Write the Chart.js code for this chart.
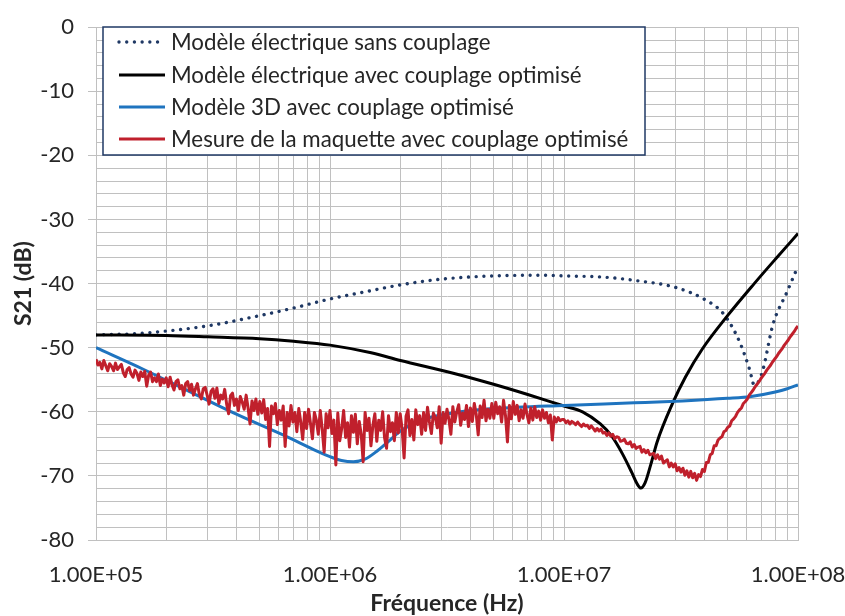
<!DOCTYPE html>
<html>
<head>
<meta charset="utf-8">
<script src="https://cdn.jsdelivr.net/npm/chart.js@4.4.1/dist/chart.umd.min.js"></script>
<style>
  html, body { margin: 0; padding: 0; background: #fff; }
  canvas { display: block; }
</style>
</head>
<body>
<canvas id="s21" width="845" height="616"></canvas>
<script>
// S21 transmission vs frequency: electrical / 3D models and the measured mock-up

const FONT = 'Lato, "Open Sans", sans-serif';
const TEXT = '#262626';
const GRID = '#c0c0c0';

// axis decades and their labels
const xDecades = [1e5, 1e6, 1e7, 1e8];
const xTickLabels = ['1.00E+05', '1.00E+06', '1.00E+07', '1.00E+08'];
const xMultipliers = [1, 2, 3, 4, 5, 6, 7, 8, 9];

// Modèle électrique sans couplage
const fSans = [1e5, 1.5e5, 2e5, 3e5, 5e5, 7e5, 1e6, 1.45e6, 2e6, 3e6, 5e6, 8e6, 1e7, 1.5e7, 2e7,
  3e7, 4e7, 4.8e7, 5.6e7, 6.2e7, 6.5e7, 6.8e7, 7.1e7, 7.8e7, 9e7, 1e8];
const s21Sans = [-48.0, -47.8, -47.4, -46.6, -45.0, -43.8, -42.4, -41.2, -40.2, -39.3, -38.8, -38.7, -38.8, -39.0, -39.5,
  -40.6, -42.5, -44.7, -48.9, -53.3, -55.8, -55.2, -53.3, -46.5, -41.2, -37.3];

// Modèle électrique avec couplage optimisé
const fAvec = [1e5, 2e5, 3e5, 5e5, 7e5, 1e6, 1.5e6, 2e6, 3.3e6, 5e6, 7e6, 1e7, 1.2e7, 1.43e7, 1.6e7,
  1.78e7, 1.95e7, 2.05e7, 2.13e7, 2.22e7, 2.35e7, 2.5e7, 2.9e7, 3.3e7, 3.9e7, 5e7, 6.5e7, 8e7, 1e8];
const s21Avec = [-48.0, -48.1, -48.3, -48.6, -49.0, -49.6, -50.8, -52.0, -53.9, -55.7, -57.3, -59.1, -60.0, -61.9, -63.8,
  -66.6, -69.5, -71.2, -71.9, -71.1, -68.2, -64.7, -58.8, -54.6, -50.2, -45.0, -40.0, -36.2, -32.2];

// Modèle 3D avec couplage optimisé
const f3d = [1e5, 1.6e5, 2.5e5, 4e5, 6.3e5, 8.9e5, 1e6, 1.12e6, 1.26e6, 1.41e6, 1.58e6, 1.78e6, 2e6, 2.5e6,
  3.2e6, 4e6, 5e6, 1e7, 2e7, 3.2e7, 5e7, 6.3e7, 8e7, 9e7, 1e8];
const s21_3d = [-50.0, -53.4, -56.8, -60.4, -63.6, -66.2, -67.0, -67.6, -67.8, -67.4, -66.2, -64.6, -63.0, -61.2,
  -60.3, -59.8, -59.5, -59.0, -58.6, -58.3, -57.9, -57.6, -56.9, -56.4, -55.8];

// Mesure de la maquette: log sweep 100 kHz - 100 MHz, 120 points per decade
// (one row = a tenth of a decade)
const sweepStart = 1e5;
const pointsPerDecade = 120;
const s21Mesure = [
  -51.8, -52.7, -52.3, -53.3, -52.0, -52.8, -53.6, -52.5, -52.9, -53.6, -52.4, -53.4,
  -53.0, -52.6, -53.9, -54.5, -53.4, -53.1, -54.1, -54.6, -53.5, -54.0, -55.1, -53.8,
  -54.5, -53.7, -56.0, -54.3, -53.8, -55.3, -54.7, -55.3, -54.1, -55.9, -54.9, -55.5,
  -54.7, -56.1, -54.6, -55.8, -56.6, -55.3, -55.0, -56.4, -55.9, -57.4, -55.6, -55.3,
  -56.7, -55.7, -57.4, -56.4, -55.6, -57.3, -58.0, -56.4, -56.2, -57.4, -58.8, -56.8,
  -56.4, -57.9, -56.3, -58.7, -57.4, -58.0, -56.5, -58.8, -60.3, -57.5, -57.1, -59.0,
  -58.0, -59.8, -57.6, -58.5, -59.6, -57.4, -59.4, -61.9, -58.3, -59.8, -58.0, -60.4,
  -58.4, -60.2, -58.1, -61.2, -59.5, -65.4, -59.1, -60.3, -58.7, -62.0, -59.8, -61.3,
  -59.1, -65.4, -60.1, -62.2, -59.0, -61.6, -60.1, -63.1, -59.5, -61.6, -64.3, -60.1,
  -62.6, -59.6, -61.8, -64.2, -60.1, -61.3, -63.5, -59.8, -62.7, -66.3, -60.3, -62.5,
  -59.8, -63.4, -61.3, -68.3, -60.2, -64.5, -62.6, -59.8, -64.0, -61.7, -65.5, -60.6,
  -63.2, -60.4, -65.0, -61.5, -63.5, -67.8, -60.1, -62.9, -61.0, -65.3, -62.1, -60.3,
  -64.6, -61.3, -62.9, -60.0, -64.1, -65.7, -60.6, -63.1, -61.7, -64.5, -60.1, -63.3,
  -60.3, -62.7, -67.2, -60.7, -59.7, -63.7, -61.2, -64.4, -59.7, -62.0, -60.6, -63.5,
  -60.1, -62.9, -59.3, -61.6, -63.4, -60.2, -60.9, -62.5, -59.2, -64.9, -60.1, -61.8,
  -59.6, -61.2, -63.5, -59.2, -61.6, -60.0, -58.9, -62.1, -60.2, -61.2, -59.0, -62.3,
  -59.4, -61.5, -58.7, -60.4, -63.6, -59.1, -60.9, -58.2, -61.4, -59.6, -61.0, -58.7,
  -61.0, -58.5, -60.3, -59.2, -61.6, -58.2, -60.6, -64.7, -59.0, -61.1, -58.4, -60.4,
  -59.0, -61.4, -59.7, -61.0, -58.8, -60.4, -61.7, -59.4, -61.3, -59.2, -60.9, -59.9,
  -61.3, -59.7, -61.0, -60.1, -61.7, -60.5, -64.4, -60.8, -61.6, -60.9, -61.4, -61.2,
  -61.2, -61.7, -61.4, -61.9, -61.5, -61.7, -62.0, -61.6, -62.0, -62.3, -61.9, -62.2,
  -62.1, -62.6, -62.2, -62.6, -63.0, -62.6, -63.0, -62.7, -63.3, -63.2, -63.7, -63.3,
  -63.8, -63.5, -64.2, -63.9, -64.0, -64.6, -64.5, -64.3, -64.9, -65.0, -64.7, -65.5,
  -65.1, -65.7, -65.5, -65.4, -66.3, -65.9, -66.4, -66.0, -66.7, -66.6, -66.5, -67.3,
  -66.7, -67.4, -66.9, -68.0, -67.7, -67.5, -68.6, -68.0, -68.6, -68.1, -69.2, -68.7,
  -69.4, -68.8, -69.9, -69.2, -70.2, -69.3, -70.3, -69.6, -70.7, -69.8, -70.1, -69.0,
  -69.3, -67.9, -67.9, -66.7, -66.5, -65.3, -65.3, -64.4, -64.1, -63.9, -63.1, -62.9,
  -62.4, -62.2, -61.4, -61.1, -60.7, -60.1, -59.7, -59.4, -58.7, -58.4, -58.0, -57.4,
  -57.0, -56.6, -56.1, -55.7, -55.3, -54.8, -54.4, -54.0, -53.5, -53.1, -52.7, -52.2,
  -51.8, -51.4, -50.9, -50.5, -50.1, -49.6, -49.2, -48.8, -48.3, -47.9, -47.5, -47.0,
  -46.6
];

const fMesure = s21Mesure.map((_, i) => sweepStart * Math.pow(10, i / pointsPerDecade));
const pairs = (fs, ys) => fs.map((f, i) => ({ x: f, y: ys[i] }));

const xGridValues = [];
xDecades.slice(0, -1).forEach(d => xMultipliers.forEach(m => xGridValues.push(d * m)));
xGridValues.push(xDecades[xDecades.length - 1]);

// legend drawn as a framed box inside the plot
const boxedLegend = {
  id: 'boxedLegend',
  afterDraw(chart) {
    const ctx = chart.ctx;
    const box = { x: 103, y: 27, w: 542, h: 128 };
    const rowY = [42, 75, 107, 139];
    ctx.save();
    ctx.fillStyle = '#fff';
    ctx.fillRect(box.x, box.y, box.w, box.h);
    ctx.strokeStyle = '#1f3864';
    ctx.lineWidth = 1.5;
    ctx.strokeRect(box.x, box.y, box.w, box.h);
    ctx.font = '22.3px ' + FONT;
    ctx.textBaseline = 'middle';
    ctx.textAlign = 'left';
    chart.data.datasets.forEach((ds, i) => {
      const y = rowY[i];
      ctx.beginPath();
      ctx.strokeStyle = ds.borderColor;
      ctx.lineWidth = ds.borderWidth;
      ctx.lineCap = ds.borderCapStyle || 'butt';
      ctx.setLineDash(ds.borderDash || []);
      ctx.moveTo(119, y);
      ctx.lineTo(165, y);
      ctx.stroke();
      ctx.setLineDash([]);
      ctx.fillStyle = TEXT;
      ctx.fillText(ds.label, 171, y + 1);
    });
    ctx.restore();
  }
};

new Chart(document.getElementById('s21'), {
  type: 'line',
  data: {
    datasets: [
      {
        label: 'Modèle électrique sans couplage',
        data: pairs(fSans, s21Sans),
        borderColor: '#1f3864',
        borderWidth: 3.4,
        borderDash: [0.01, 7.7],
        borderCapStyle: 'round',
        cubicInterpolationMode: 'monotone',
        order: 3
      },
      {
        label: 'Modèle électrique avec couplage optimisé',
        data: pairs(fAvec, s21Avec),
        borderColor: '#000000',
        borderWidth: 3,
        cubicInterpolationMode: 'monotone',
        order: 2
      },
      {
        label: 'Modèle 3D avec couplage optimisé',
        data: pairs(f3d, s21_3d),
        borderColor: '#1f74bf',
        borderWidth: 3,
        cubicInterpolationMode: 'monotone',
        order: 1
      },
      {
        label: 'Mesure de la maquette avec couplage optimisé',
        data: pairs(fMesure, s21Mesure),
        borderColor: '#c0202c',
        borderWidth: 3,
        borderJoinStyle: 'round',
        tension: 0,
        order: 0
      }
    ]
  },
  options: {
    responsive: false,
    animation: false,
    events: [],
    layout: { padding: { top: 18, right: 47, bottom: 0, left: 0 } },
    elements: { point: { radius: 0 } },
    plugins: {
      legend: { display: false },
      tooltip: { enabled: false }
    },
    scales: {
      x: {
        type: 'logarithmic',
        min: 1e5,
        max: 1e8,
        afterBuildTicks: (scale) => { scale.ticks = xGridValues.map(v => ({ value: v })); },
        afterFit: (scale) => {
          scale.height = 76;
          scale.paddingLeft = 0;
          scale.paddingRight = 0;
        },
        grid: { color: GRID, lineWidth: 1, drawTicks: false },
        border: { color: GRID },
        ticks: {
          autoSkip: false,
          maxRotation: 0,
          padding: 22,
          color: TEXT,
          font: { family: FONT, size: 22 },
          callback: (value) => {
            const k = xDecades.findIndex(d => Math.abs(d - value) < d * 1e-6);
            return k >= 0 ? xTickLabels[k] : '';
          }
        },
        title: {
          display: true,
          text: 'Fréquence (Hz)',
          color: TEXT,
          font: { family: FONT, size: 23, weight: 'bold', lineHeight: 1.1 },
          padding: { top: 0, bottom: 0 }
        }
      },
      y: {
        min: -80,
        max: 0,
        afterFit: (scale) => { scale.width = 96; },
        grid: {
          color: GRID,
          lineWidth: 1,
          tickLength: 8,
          tickColor: (c) => (c.tick && c.tick.value % 10 === 0 ? GRID : 'rgba(0,0,0,0)')
        },
        border: { color: GRID },
        ticks: {
          stepSize: 2,
          autoSkip: false,
          padding: 14,
          color: TEXT,
          font: { family: FONT, size: 22 },
          callback: (value) => (value % 10 === 0 ? String(value) : '')
        },
        title: {
          display: true,
          text: 'S21 (dB)',
          color: TEXT,
          font: { family: FONT, size: 23, weight: 'bold', lineHeight: 1.1 },
          padding: { top: 11, bottom: 0 }
        }
      }
    }
  },
  plugins: [boxedLegend]
});
</script>
</body>
</html>
